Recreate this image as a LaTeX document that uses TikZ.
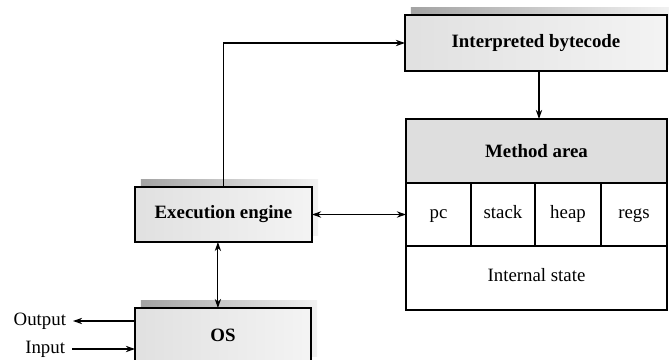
\documentclass[tikz,border=0pt]{standalone}
\usepackage{fontspec}
\setmainfont{Liberation Serif}
\usetikzlibrary{arrows, arrows.meta, positioning, shapes, fit}

\tikzset{
  shadowbox/.style={draw, line width=0.8pt, inner sep=0pt, outer sep=0pt, left color=gray!24, right color=gray!9,
    preaction={draw=none, left color=gray!72, right color=gray!10,
      transform canvas={shift={(0.15cm,0.175cm)}}}},
  cell/.style={draw, line width=0.8pt, inner sep=0pt, outer sep=0pt, fill=white, minimum height=1.575cm,
    text height=1.6ex, text depth=0.45ex},
  link/.style={line width=0.8pt, >={Stealth[length=6.5pt, width=4.5pt]}},
}

\begin{document}
\begin{tikzpicture}[x=0.025cm, y=-0.025cm, every node/.style={align=center, font=\fontsize{13.4}{16}\selectfont}]
        \useasboundingbox (0,0) rectangle (669,360);
        \clip (0,0) rectangle (669,360);
        \fill[white] (0,0) rectangle (669,360);

        \node (interp) [shadowbox, minimum width=6.55cm, minimum height=1.4cm] at (536,43) {\bfseries Interpreted bytecode};
        \node (method) [draw, line width=0.8pt, inner sep=0pt, outer sep=0pt, fill=gray!26, minimum width=6.525cm, minimum height=1.6cm] at (536.5,151) {\bfseries Method area};
        \node (pc) [cell, minimum width=1.625cm, below right=0pt and 0pt of method.south west] {pc};
        \node (stack) [cell, minimum width=1.6cm, right=0pt of pc] {stack};
        \node (heap) [cell, minimum width=1.65cm, right=0pt of stack] {heap};
        \node (regs) [cell, minimum width=1.65cm, right=0pt of heap] {regs};
        \node (internal) [cell, minimum width=6.525cm, minimum height=1.6cm, below right=0pt and 0pt of pc.south west] {Internal state};
        \node (exec) [shadowbox, minimum width=4.425cm, minimum height=1.375cm] at (223.5,214.5) {\bfseries Execution engine};
        \node (os) [shadowbox, minimum width=4.4cm, minimum height=1.375cm] at (223,335.5) {\bfseries OS};
        \node (output) [anchor=east] at (71,321) {Output};
        \node (input) [anchor=east] at (70,349) {Input};

        \draw[link, ->] (exec.north) |- (interp.west);
        \draw[link, ->] ([xshift=0.075cm]interp.south) -- ([xshift=0.075cm]interp.south |- method.north);
        \draw[link, <->] (exec.east) -- (exec.east -| pc.west);
        \draw[link, <->] ([xshift=-0.14cm]exec.south) -- ([xshift=-0.14cm]exec.south |- os.north);
        \draw[link, ->] (os.west |- output) -- ([xshift=0.05cm]output.east);
        \draw[link, ->] ([xshift=0.05cm]input.east) -- (os.west |- input);
    \end{tikzpicture}
\end{document}
